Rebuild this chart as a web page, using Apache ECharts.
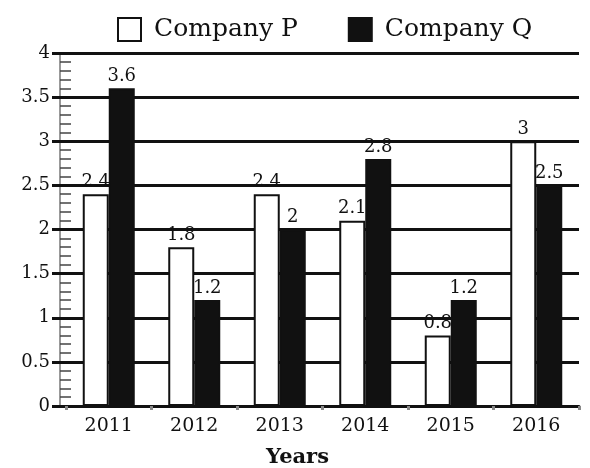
<!DOCTYPE html>
<html>
<head>
<meta charset="utf-8">
<script src="https://cdn.jsdelivr.net/npm/echarts@6/dist/echarts.min.js"></script>
<style>
  html, body { margin: 0; padding: 0; background: #fff; }
  #main { width: 590px; height: 468px; }
</style>
</head>
<body>
<div id="main"></div>
<script>
// data
let years = ['2011', '2012', '2013', '2014', '2015', '2016']
let companyP = [2.4, 1.8, 2.4, 2.1, 0.8, 3]
let companyQ = [3.6, 1.2, 2, 2.8, 1.2, 2.5]

let myChart = echarts.init(document.getElementById('main'))

let serif = 'DejaVu Serif'

let labelStyle = {
    show: true,
    position: 'top',
    distance: 3,
    color: '#111',
    fontFamily: serif,
    fontSize: 18
}

myChart.setOption({
    animation: false,
    legend: {
        top: 12,
        left: 112,
        icon: 'rect',
        itemWidth: 23,
        itemHeight: 23,
        itemGap: 50,
        textStyle: { fontFamily: serif, fontSize: 25, color: '#111', padding: [0, 0, 0, 8] },
        data: [
            { name: 'Company P', itemStyle: { color: '#fff', borderColor: '#111', borderWidth: 2 } },
            { name: 'Company Q', itemStyle: { color: '#111' } }
        ]
    },
    grid: { left: 66, right: 11, top: 53, bottom: 62, outerBoundsMode: 'none' },
    xAxis: {
        type: 'category',
        data: years,
        name: 'Years',
        nameLocation: 'middle',
        nameGap: 41,
        nameTextStyle: { fontFamily: serif, fontSize: 21, fontWeight: 'bold', color: '#111', padding: [0, 50, 0, 0] },
        axisLine: { lineStyle: { color: '#111', width: 3 } },
        axisTick: { show: true, length: 4, lineStyle: { color: '#888', width: 3 } },
        axisLabel: { fontFamily: serif, fontSize: 19, color: '#111', margin: 11 }
    },
    yAxis: [
        {
            type: 'value',
            min: 0,
            max: 4,
            interval: 0.5,
            offset: 6,
            axisLine: { show: true, lineStyle: { color: '#999', width: 2 } },
            axisTick: { show: false, inside: true },
            minorTick: { show: true, splitNumber: 5, length: 11, lineStyle: { color: '#444', width: 1.5 } },
            splitLine: { show: true, lineStyle: { color: '#111', width: 3 } },
            axisLabel: { fontFamily: serif, fontSize: 18, color: '#111', margin: 10 }
        },
        {
            // black ticks at the major values, joining the grid lines to the axis
            type: 'value',
            position: 'left',
            min: 0,
            max: 4,
            interval: 0.5,
            axisLine: { show: false },
            axisTick: { show: true, length: 14, lineStyle: { color: '#111', width: 3 } },
            splitLine: { show: false },
            axisLabel: { show: false }
        }
    ],
    series: [
        {
            name: 'Company P',
            type: 'bar',
            data: companyP,
            barWidth: 26,
            barGap: '0%',
            itemStyle: { color: '#fff', borderColor: '#111', borderWidth: 2 },
            label: labelStyle
        },
        {
            name: 'Company Q',
            type: 'bar',
            data: companyQ,
            barWidth: 26,
            itemStyle: { color: '#111', borderColor: '#111', borderWidth: 2 },
            label: labelStyle
        }
    ]
})
</script>
</body>
</html>
